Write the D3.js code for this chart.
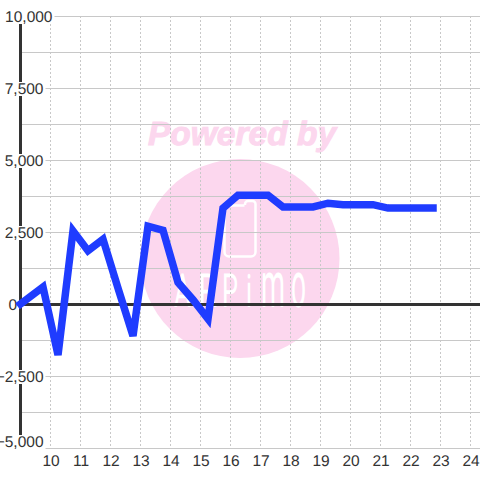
<!DOCTYPE html>
<html>
<head>
<meta charset="utf-8">
<script src="https://cdnjs.cloudflare.com/ajax/libs/d3/7.8.5/d3.min.js"></script>
<style>
html, body { margin: 0; padding: 0; background: #fff; }
svg { display: block; font-family: "Liberation Sans", Arial, sans-serif; text-rendering: geometricPrecision; }
</style>
</head>
<body>
<svg id="viz"></svg>
<script>
var hours = [9, 9.75, 10.25, 10.75, 11.25, 11.75, 12.25, 12.75, 13.25, 13.75, 14.25, 14.75, 15.25, 15.75,
    16.25, 16.75, 17.25, 17.75, 18.25, 18.75, 19.25, 19.75, 20.25, 20.75, 21.25, 21.75, 22.25, 22.75];
var values = [0, 590, -1770, 2540, 1850, 2250, 550, -1110, 2700, 2560, 750, 150, -520, 3330,
    3780, 3780, 3780, 3370, 3370, 3370, 3500, 3450, 3450, 3450, 3330, 3330, 3330, 3330];
var xTicks = [10, 11, 12, 13, 14, 15, 16, 17, 18, 19, 20, 21, 22, 23, 24];
var yLabels = [10000, 7500, 5000, 2500, 0, -2500, -5000];
var yGrid = [10000, 8750, 7500, 6250, 5000, 3750, 2500, 1250, 0, -1250, -2500, -3750, -5000];
var logoLetters = ["A", "R", "P", "i", "m", "o"];

var width = 480;
var height = 480;
var pink = "#fcd7ee";

var svg = d3.select("#viz").attr("width", width).attr("height", height);

var x = d3.scaleLinear().domain([9, 25]).range([20.5, 500.5]);
var y = d3.scaleLinear().domain([10000, -5000]).range([16, 448]);
var fmt = d3.format(",");

// right edge of each y label, they are not lined up in the original
function labelRight(d) {
    if (d == 10000) return 52.5;
    if (d == 0) return 17;
    return 43.5;
}
function labelLeft(d) {
    if (d == 10000) return 5;
    if (d == 0) return 7;
    return d < 0 ? 1 : 5;
}
function labelBase(d) {
    return d == -5000 ? y(d) - 1 : y(d) + 6;
}

// watermark sits under everything
var mark = svg.append("g");
mark.append("text")
    .attr("x", 242).attr("y", 144.5)
    .attr("text-anchor", "middle")
    .style("font-size", "33.5px").style("font-weight", "bold").style("font-style", "italic")
    .style("fill", pink).style("stroke", pink).style("stroke-width", 1)
    .text("Powered by");
mark.append("circle").attr("cx", 240).attr("cy", 258.5).attr("r", 99.5).style("fill", pink);
mark.append("path")
    .attr("d", "M244.5 205.5H229a4.5 4.5 0 0 0-4.5 4.5V252a4.5 4.5 0 0 0 4.5 4.5H251a4.5 4.5 0 0 0 4.5-4.5V204a3 3 0 0 0-3-3H248a3 3 0 0 0-3 3V205")
    .style("fill", "none").style("stroke", "#fff").style("stroke-width", 2.5);

var letterLeft = [174, 198, 222, 246, 261, 291];
var letterWidth = [17, 19, 16, 6, 24, 15];
mark.selectAll("text.logo").data(logoLetters).enter().append("text")
    .attr("class", "logo")
    .attr("x", function(d, i) { return letterLeft[i]; })
    .attr("y", 307)
    .attr("textLength", function(d, i) { return letterWidth[i]; })
    .attr("lengthAdjust", "spacingAndGlyphs")
    .style("font-family", "Roboto, sans-serif")
    .style("font-size", function(d) { return d == d.toUpperCase() ? "47px" : d == "i" ? "46px" : "64px"; })
    .style("fill", "#fff")
    .text(function(d) { return d; });

// grid
svg.append("g").selectAll("line").data(yGrid).enter().append("line")
    .attr("x1", 20).attr("x2", width)
    .attr("y1", function(d) { return Math.round(y(d)) + 0.5; })
    .attr("y2", function(d) { return Math.round(y(d)) + 0.5; })
    .style("stroke", "#c8c8c8").style("stroke-width", 1);

svg.append("g").selectAll("line").data(xTicks).enter().append("line")
    .attr("x1", function(d) { return x(d); })
    .attr("x2", function(d) { return x(d); })
    .attr("y1", 16).attr("y2", 448)
    .style("stroke", "#c8c8c8").style("stroke-width", 1).style("stroke-dasharray", "2,2");

// axis lines
svg.append("line")
    .attr("x1", 20.5).attr("x2", 20.5).attr("y1", 16).attr("y2", 448)
    .style("stroke", "#333").style("stroke-width", 3);
svg.append("line")
    .attr("x1", 20).attr("x2", width).attr("y1", y(0) + 0.5).attr("y2", y(0) + 0.5)
    .style("stroke", "#333").style("stroke-width", 3);

// y labels on a white plate so they cut the axis and grid
var yl = svg.append("g").selectAll("g").data(yLabels).enter().append("g");
yl.append("rect")
    .attr("x", labelLeft)
    .attr("y", function(d) { return labelBase(d) - 12; })
    .attr("width", function(d) { return labelRight(d) + 2 - labelLeft(d); })
    .attr("height", 14)
    .style("fill", "#fff");
yl.append("text")
    .attr("x", labelRight)
    .attr("y", labelBase)
    .attr("text-anchor", "end")
    .style("font-size", "15.5px").style("fill", "#333")
    .text(function(d) { return fmt(d); });

svg.append("g").selectAll("text").data(xTicks).enter().append("text")
    .attr("x", function(d) { return x(d) + 0.5; })
    .attr("y", 466)
    .attr("text-anchor", "middle")
    .style("font-size", "15.5px").style("fill", "#333")
    .text(function(d) { return d; });

// series
var line = d3.line()
    .x(function(d, i) { return x(hours[i]); })
    .y(function(d) { return y(d); });

svg.append("path")
    .datum(values)
    .attr("d", line)
    .style("fill", "none")
    .style("stroke", "#1f3cff")
    .style("stroke-width", 7.5)
    .style("stroke-linecap", "square")
    .style("stroke-linejoin", "miter");
</script>
</body>
</html>
